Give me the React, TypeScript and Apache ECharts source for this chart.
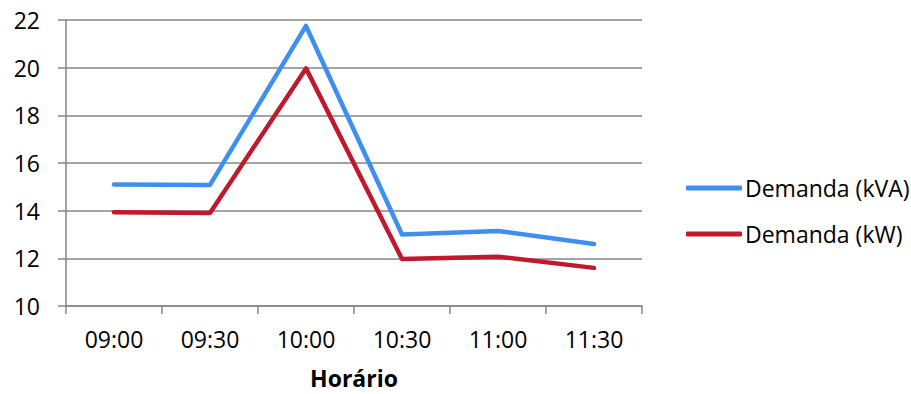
import React, { useEffect, useRef } from "react";
import * as echarts from "echarts";

// Horário de medição
const categories: string[] = ["09:00", "09:30", "10:00", "10:30", "11:00", "11:30"];
// Demanda aparente (kVA)
const demandaKVA: number[] = [15.1, 15.08, 21.75, 13.0, 13.15, 12.6];
// Demanda ativa (kW)
const demandaKW: number[] = [13.93, 13.9, 19.97, 11.97, 12.07, 11.6];

const yMin = 10;
const yMax = 22;
const yStep = 2;

const FONT = "'Open Sans', 'Noto Sans', sans-serif";
const AXIS_GRAY = "#868686";

export default function App() {
  const ref = useRef<HTMLDivElement>(null);

  useEffect(() => {
    if (!ref.current) return;
    const chart = echarts.init(ref.current, undefined, { renderer: "svg" });
    chart.setOption({
      animation: false,
      backgroundColor: "#ffffff",
      textStyle: { fontFamily: FONT },
      grid: { left: 66, top: 20, right: 269, bottom: 86, containLabel: false },
      legend: {
        orient: "vertical",
        left: 681,
        top: 171,
        itemWidth: 56,
        itemHeight: 5,
        itemGap: 22,
        icon: "roundRect",
        textStyle: { fontFamily: FONT, fontSize: 23, color: "#000", lineHeight: 24, padding: [0, 0, 0, -2] },
        data: ["Demanda (kVA)", "Demanda (kW)"],
      },
      xAxis: {
        type: "category",
        data: categories,
        boundaryGap: true,
        name: "Horário",
        nameLocation: "middle",
        nameGap: 60,
        nameTextStyle: { fontFamily: FONT, fontSize: 23, fontWeight: "bold", color: "#000" },
        axisLine: { show: true, lineStyle: { color: AXIS_GRAY, width: 1.5 } },
        axisTick: { show: true, alignWithLabel: false, length: 8, lineStyle: { color: AXIS_GRAY, width: 1.5 } },
        axisLabel: { fontFamily: FONT, fontSize: 23, color: "#000", margin: 21 },
        splitLine: { show: false },
      },
      yAxis: {
        type: "value",
        min: yMin,
        max: yMax,
        interval: yStep,
        axisLine: { show: true, lineStyle: { color: AXIS_GRAY, width: 1.5 } },
        axisTick: { show: true, length: 8, lineStyle: { color: AXIS_GRAY, width: 1.5 } },
        axisLabel: { fontFamily: FONT, fontSize: 23, color: "#000", margin: 26 },
        splitLine: { show: true, lineStyle: { color: AXIS_GRAY, width: 1.5 } },
      },
      series: [
        {
          name: "Demanda (kVA)",
          type: "line",
          data: demandaKVA,
          symbol: "none",
          color: "#3f8ff0",
          lineStyle: { width: 4.5, color: "#3f8ff0", cap: "round", join: "round" },
        },
        {
          name: "Demanda (kW)",
          type: "line",
          data: demandaKW,
          symbol: "none",
          color: "#c0192e",
          lineStyle: { width: 4.5, color: "#c0192e", cap: "round", join: "round" },
        },
      ],
    });
    return () => chart.dispose();
  }, []);

  return (
    <div
      ref={ref}
      style={{ position: "fixed", left: 0, top: 0, width: 911, height: 394, background: "#fff" }}
    />
  );
}
